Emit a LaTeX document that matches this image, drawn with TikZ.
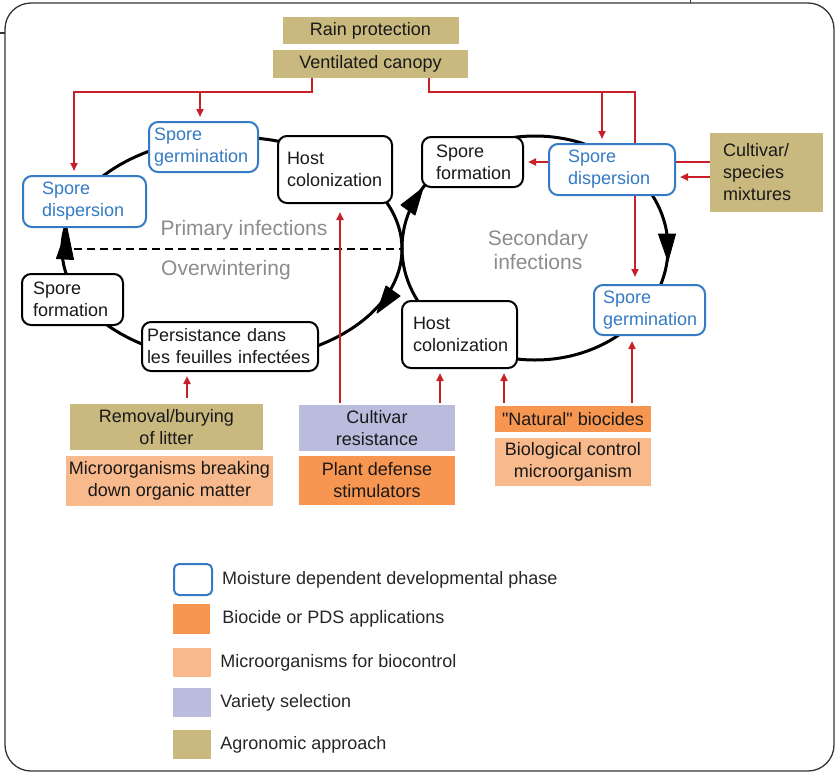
\documentclass[tikz,border=0pt]{standalone}
\usepackage{fontspec}
\setmainfont{Liberation Sans}
\newfontfamily\plainquote{Liberation Sans}
\usetikzlibrary{arrows.meta, positioning, backgrounds}

\definecolor{agro}{RGB}{201,185,126}
\definecolor{variety}{RGB}{186,188,222}
\definecolor{biocide}{RGB}{247,150,80}
\definecolor{microorg}{RGB}{248,186,140}
\definecolor{moistblue}{RGB}{52,122,196}
\definecolor{ctrlred}{RGB}{200,32,40}
\definecolor{labelgray}{RGB}{140,140,140}

\begin{document}
\begin{tikzpicture}[
  x=1pt, y=-1pt,
  every node/.style={font=\fontsize{18}{22}\selectfont, text=black!90},
  phase/.style={draw, line width=2pt, rounded corners=9pt, fill=white, align=left, inner sep=0pt},
  moist/.style={phase, draw=moistblue, text=moistblue},
  ctrl/.style={inner sep=0pt, align=center},
  cycleline/.style={line width=3pt},
  cyclehead/.style={fill=black, draw=black, line width=1pt, line join=round},
  redarrow/.style={ctrlred, line width=2pt, -{Triangle[length=8pt, width=7pt]}, shorten >=4pt},
  infolabel/.style={text=labelgray, align=center, font=\fontsize{21}{24}\selectfont},
  legtext/.style={inner sep=0pt, text=black!85}
]
\useasboundingbox (0,0) rectangle (836,772);

% frame
\draw[line width=1.3pt, black!80, rounded corners=26pt] (5,3) rectangle (834,771);
\draw[line width=1.3pt, black!80] (0,33) -- (5,33);
\draw[line width=1pt, black!80] (690,0) -- (690,3);

% agronomic measures at the top
\node[ctrl, fill=agro, minimum width=176pt, minimum height=27pt] (rain) at (370.5,30.5) {Rain protection};
\node[ctrl, fill=agro, minimum width=195pt, minimum height=28pt] (canopy) at (370.5,64) {Ventilated canopy};

% primary cycle
\node[moist, minimum width=109pt, minimum height=50pt, text width=99pt] (lgerm) at (203.5,147) {Spore\\germination};
\node[phase, minimum width=114pt, minimum height=67pt, text width=96pt] (lhost) at (335,169.5) {Host\\colonization};
\node[moist, minimum width=123pt, minimum height=51pt, text width=85pt] (ldisp) at (84.5,201.5) {Spore\\dispersion};
\node[phase, minimum width=101pt, minimum height=51pt, text width=79pt] (lform) at (72.5,299.5) {Spore\\formation};
\node[phase, minimum width=176pt, minimum height=49pt, text width=166pt] (persist) at (230,346.5) {Persistance dans\\les feuilles infectées};

% secondary cycle
\node[phase, minimum width=101pt, minimum height=50pt, text width=73pt] (rform) at (472.5,162) {Spore\\formation};
\node[moist, minimum width=126pt, minimum height=51pt, text width=88pt] (rdisp) at (612,169.5) {Spore\\dispersion};
\node[moist, minimum width=111pt, minimum height=50pt, text width=93pt] (rgerm) at (649.5,310) {Spore\\germination};
\node[phase, minimum width=115pt, minimum height=67pt, text width=93pt] (rhost) at (459.5,334.5) {Host\\colonization};
\node[ctrl, fill=agro, align=left, minimum width=113pt, minimum height=79pt, text width=87pt] (mixtures) at (766.5,172.5) {Cultivar/\\species\\mixtures};

\node[infolabel] (primary) at (244,230) {Primary infections};
\node[infolabel] (overwinter) at (226,270) {Overwintering};
\node[infolabel] (secondary) at (538,250) {Secondary\\infections};

% control measures at the bottom
\node[ctrl, fill=agro, minimum width=193pt, minimum height=46pt] (litter) at (166.5,427) {Removal/burying\\of litter};
\node[ctrl, fill=microorg, minimum width=207pt, minimum height=50pt] (decomp) at (169.5,481) {Microorganisms breaking\\down organic matter};
\node[ctrl, fill=variety, minimum width=156pt, minimum height=46pt] (resist) at (377,428) {Cultivar\\resistance};
\node[ctrl, fill=biocide, minimum width=156pt, minimum height=49pt] (pds) at (377,480.5) {Plant defense\\stimulators};
\node[ctrl, fill=biocide, minimum width=156pt, minimum height=26pt] (natbio) at (573,419) {{\plainquote "Natural" biocides}};
\node[ctrl, fill=microorg, minimum width=156pt, minimum height=48pt] (biocontrol) at (573,462) {Biological control\\microorganism};

% legend
\node[phase, draw=moistblue, rounded corners=5pt, minimum width=38pt, minimum height=31pt] (legmoist) at (193,579.5) {};
\node[legtext, right=9pt of legmoist] (legmoisttxt) {Moisture dependent developmental phase};
\node[ctrl, fill=biocide, minimum width=37pt, minimum height=30pt] (legbio) at (191.5,619) {};
\node[legtext, right=12pt of legbio] (legbiotxt) {Biocide or PDS applications};
\node[ctrl, fill=microorg, minimum width=38pt, minimum height=29pt] (legmicro) at (192,662.5) {};
\node[legtext, right=9pt of legmicro] (legmicrotxt) {Microorganisms for biocontrol};
\node[ctrl, fill=variety, minimum width=38pt, minimum height=29pt] (legvar) at (192,702.5) {};
\node[legtext, right=9pt of legvar] (legvartxt) {Variety selection};
\node[ctrl, fill=agro, minimum width=38pt, minimum height=29pt] (legagro) at (192,744.5) {};
\node[legtext, right=9pt of legagro] (legagrotxt) {Agronomic approach};

\begin{scope}[on background layer]
% the two infection cycles
\draw[cycleline] (62,249) arc[start angle=180, delta angle=-360, x radius=170pt, y radius=112pt];
\draw[cycleline] (402,248) arc[start angle=180, delta angle=-360, x radius=133pt, y radius=112pt];
\draw[line width=1.5pt, dash pattern=on 8pt off 5pt] (74,249) -- (402,249);
% arrowheads on the cycles
\path[cyclehead] (67,228) -- (56.5,258.5) -- (73.5,259.5) -- cycle;
\path[cyclehead] (377,313) -- (400,296) -- (386,286) -- cycle;
\path[cyclehead] (423,188) -- (415,215) -- (401,205) -- cycle;
\path[cyclehead] (668,261) -- (658.5,234) -- (675.5,234) -- cycle;

% red arrows
\coordinate (lgermin) at ([xshift=-3.5pt]lgerm.north);
\coordinate (rgermin) at ([xshift=-14.5pt]rgerm.north);
\coordinate (rdispin) at ([xshift=-10pt]rdisp.north);
\draw[redarrow] ([xshift=-58.5pt]canopy.south) -- ++(0,14) coordinate (lbar) -| ([xshift=-10.5pt]ldisp.north);
\draw[redarrow] (lgermin |- lbar) -- (lgermin);
\draw[redarrow, shorten >=7pt] ([xshift=58.5pt]canopy.south) -- ++(0,14) coordinate (rbar) -| (rgermin);
\draw[redarrow] (rdispin |- rbar) -- (rdispin);

\coordinate (mixlow) at ([yshift=-4.5pt]mixtures.west);
\draw[redarrow] ([yshift=10.5pt]mixtures.west) -- (rform.east);
\draw[redarrow] (mixlow) -- (mixlow -| rdisp.east);

\coordinate (litterout) at ([xshift=20.5pt]litter.north);
\coordinate (resistl) at ([xshift=-37pt]resist.north);
\coordinate (resistr) at ([xshift=63pt]resist.north);
\coordinate (natbiol) at ([xshift=-69pt]natbio.north);
\coordinate (natbior) at ([xshift=59pt]natbio.north);
\draw[redarrow, shorten <=6pt] (litterout) -- (litterout |- persist.south);
\draw[redarrow, shorten <=2pt, shorten >=8pt] (resistl) -- (resistl |- lhost.south);
\draw[redarrow, shorten <=2pt] (resistr) -- (resistr |- rhost.south);
\draw[redarrow, shorten <=3pt] (natbiol) -- (natbiol |- rhost.south);
\draw[redarrow, shorten <=3pt, shorten >=5pt] (natbior) -- (natbior |- rgerm.south);
\end{scope}

\end{tikzpicture}
\end{document}
